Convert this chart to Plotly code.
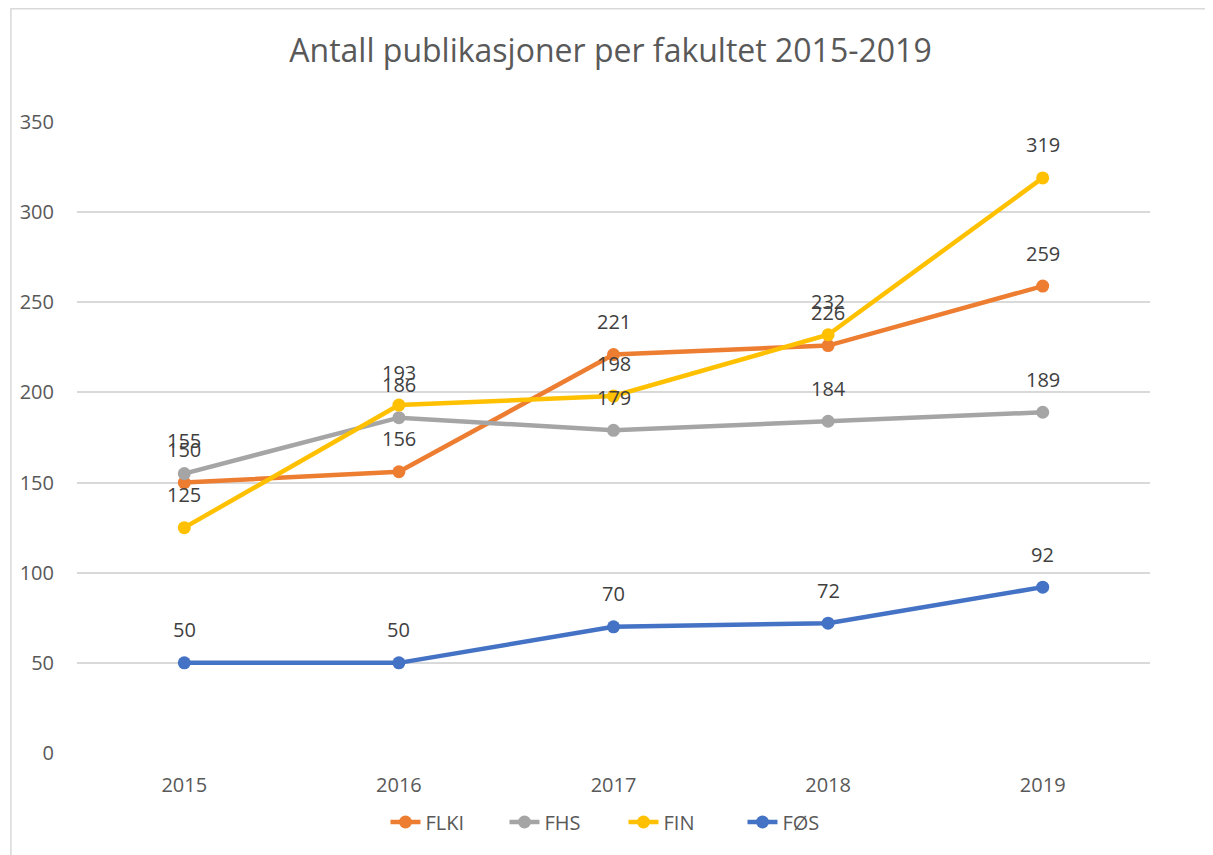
import plotly.graph_objects as go

years = ["2015", "2016", "2017", "2018", "2019"]
series_names = ["FLKI", "FHS", "FIN", "FØS"]
flki = [150, 156, 221, 226, 259]
fhs = [155, 186, 179, 184, 189]
fin = [125, 193, 198, 232, 319]
fos = [50, 50, 70, 72, 92]
colors = ["#ED7D31", "#A5A5A5", "#FFC000", "#4472C4"]
y_ticks = [0, 50, 100, 150, 200, 250, 300, 350]

FONT = "Open Sans, Liberation Sans, sans-serif"
W, H = 1205, 847
L, R, T, B = 67, 63, 114, 102
PW, PH = W - L - R, H - T - B

fig = go.Figure()
annotations = []
for name, vals, col in zip(series_names, [flki, fhs, fin, fos], colors):
    fig.add_trace(go.Scatter(x=years, y=vals, name=name, mode="lines+markers",
                             line=dict(color=col, width=4.5),
                             marker=dict(color=col, size=13)))
    for i, v in enumerate(vals):
        annotations.append(dict(x=i, y=v, xref="x", yref="y", text=str(v),
                                showarrow=False, yshift=33,
                                font=dict(family=FONT, size=20, color="#404040")))

fig.update_layout(
    width=W, height=H,
    margin=dict(l=L, r=R, t=T, b=B),
    paper_bgcolor="white", plot_bgcolor="white",
    title=dict(text="Antall publikasjoner per fakultet 2015-2019", x=0.5, xanchor="center",
               y=1 - 43 / H, yanchor="middle",
               font=dict(family=FONT, size=32, color="#595959")),
    font=dict(family=FONT, size=20, color="#595959"),
    showlegend=True,
    legend=dict(orientation="h", x=0.5 + 10 / PW, xanchor="center", y=(T + PH - 814) / PH,
                yanchor="middle", entrywidth=74, entrywidthmode="pixels",
                font=dict(family=FONT, size=20, color="#595959")),
    annotations=annotations,
    shapes=[dict(type="rect", xref="paper", yref="paper",
                 x0=(0.75 - L) / PW, x1=(W + 20 - L) / PW,
                 y0=-(B + 20) / PH, y1=(T + PH - 0.75) / PH,
                 line=dict(color="#D9D9D9", width=1.5), layer="below")],
)
fig.update_xaxes(type="category", range=[-0.5, 4.5], showgrid=False, showline=False,
                 zeroline=False, ticks="", ticklabelstandoff=18,
                 tickfont=dict(family=FONT, size=20, color="#595959"))
fig.update_yaxes(range=[0, 350], tickvals=y_ticks, showgrid=True, gridcolor="#D9D9D9",
                 gridwidth=1.5, zeroline=False, showline=False, ticks="",
                 ticklabelstandoff=22,
                 tickfont=dict(family=FONT, size=20, color="#595959"))
fig.write_html("out.html")
